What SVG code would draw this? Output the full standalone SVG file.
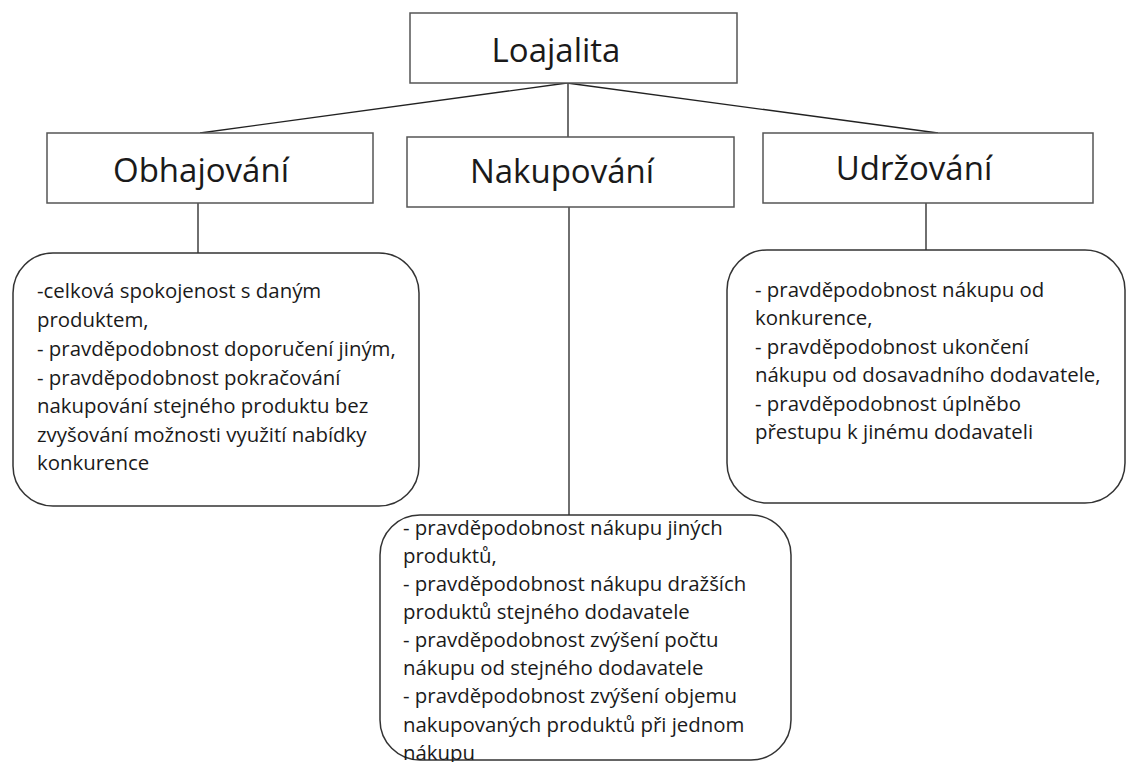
<svg xmlns="http://www.w3.org/2000/svg" width="1127" height="762" viewBox="0 0 1127 762">
  <style>
    .box { fill: #ffffff; stroke: #555555; stroke-width: 1.5; }
    .card { fill: #ffffff; stroke: #333333; stroke-width: 1.5; }
    .link { fill: none; stroke: #222222; stroke-width: 1.3; }
    .title { font-family: "Open Sans", "Noto Sans", sans-serif; font-size: 33px; fill: #1a1a1a; text-anchor: middle; }
    .item { font-family: "Open Sans", "Noto Sans", sans-serif; font-size: 20.4px; fill: #1a1a1a; }
  </style>
  <rect width="1127" height="762" fill="#ffffff"/>

  <!-- connectors -->
  <g id="connectors">
    <line class="link" x1="567" y1="83" x2="200" y2="133"/>
    <line class="link" x1="567" y1="83" x2="938" y2="133"/>
    <line class="link" x1="568" y1="83" x2="568" y2="137"/>
    <line class="link" x1="198" y1="203" x2="198" y2="253"/>
    <line class="link" x1="569" y1="207" x2="569" y2="515"/>
    <line class="link" x1="926" y1="203" x2="926" y2="250"/>
  </g>

  <!-- root -->
  <g id="loajalita">
    <rect class="box" x="410" y="13" width="327" height="70"/>
    <text class="title" x="556" y="62">Loajalita</text>
  </g>

  <!-- second level -->
  <g id="obhajovani">
    <rect class="box" x="47" y="133" width="326" height="70"/>
    <text class="title" x="201" y="182">Obhajování</text>
  </g>
  <g id="nakupovani">
    <rect class="box" x="407" y="137" width="327" height="70"/>
    <text class="title" x="562" y="183">Nakupování</text>
  </g>
  <g id="udrzovani">
    <rect class="box" x="763" y="133" width="330" height="70"/>
    <text class="title" x="914" y="180">Udržování</text>
  </g>

  <!-- detail cards -->
  <g id="obhajovani-detail">
    <rect class="card" x="13" y="253" width="406" height="253" rx="40" ry="40"/>
    <text class="item" x="37" y="298">-celková spokojenost s daným</text>
    <text class="item" x="37" y="327">produktem,</text>
    <text class="item" x="37" y="356">- pravděpodobnost doporučení jiným,</text>
    <text class="item" x="37" y="385">- pravděpodobnost pokračování</text>
    <text class="item" x="37" y="413">nakupování stejného produktu bez</text>
    <text class="item" x="37" y="442">zvyšování možnosti využití nabídky</text>
    <text class="item" x="37" y="470">konkurence</text>
  </g>
  <g id="udrzovani-detail">
    <rect class="card" x="727" y="250" width="398" height="253" rx="40" ry="40"/>
    <text class="item" x="755" y="297">- pravděpodobnost nákupu od</text>
    <text class="item" x="755" y="325">konkurence,</text>
    <text class="item" x="755" y="354">- pravděpodobnost ukončení</text>
    <text class="item" x="755" y="382">nákupu od dosavadního dodavatele,</text>
    <text class="item" x="755" y="411">- pravděpodobnost úplněbo</text>
    <text class="item" x="755" y="439">přestupu k jinému dodavateli</text>
  </g>
  <g id="nakupovani-detail">
    <rect class="card" x="380" y="515" width="411" height="245" rx="40" ry="40"/>
    <text class="item" x="403" y="535">- pravděpodobnost nákupu jiných</text>
    <text class="item" x="403" y="563">produktů,</text>
    <text class="item" x="403" y="591">- pravděpodobnost nákupu dražších</text>
    <text class="item" x="403" y="619">produktů stejného dodavatele</text>
    <text class="item" x="403" y="647">- pravděpodobnost zvýšení počtu</text>
    <text class="item" x="403" y="675">nákupu od stejného dodavatele</text>
    <text class="item" x="403" y="703">- pravděpodobnost zvýšení objemu</text>
    <text class="item" x="403" y="732">nakupovaných produktů při jednom</text>
    <text class="item" x="403" y="760">nákupu</text>
  </g>
</svg>
